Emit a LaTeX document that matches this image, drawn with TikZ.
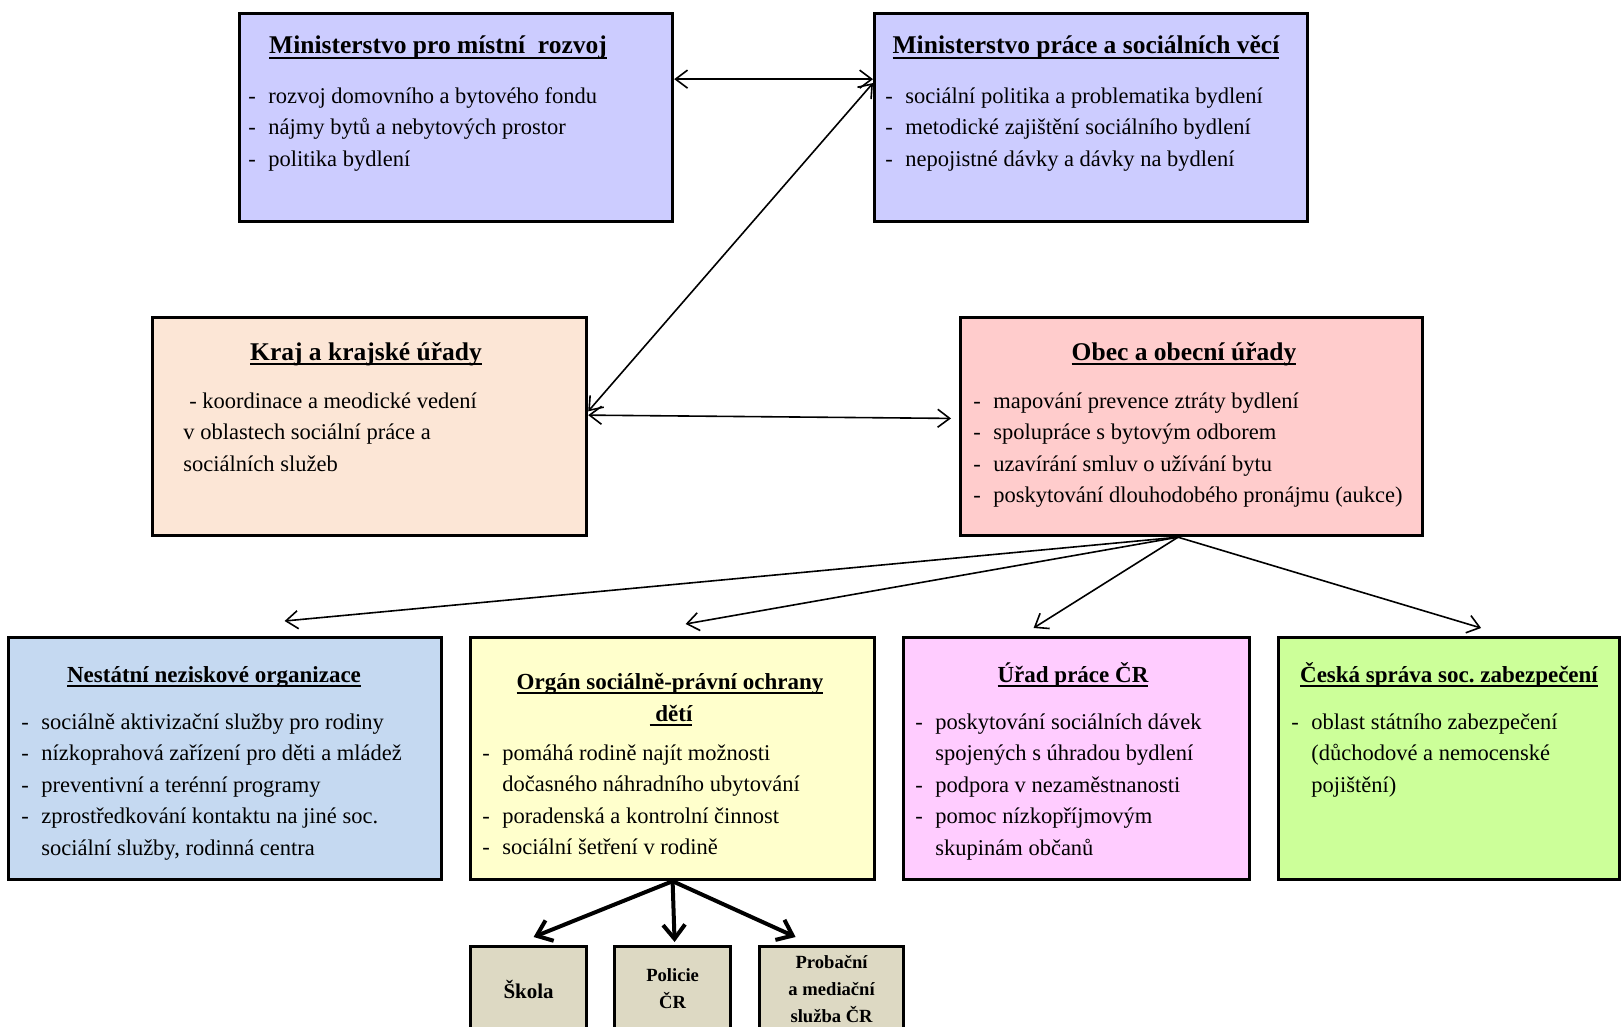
\documentclass[tikz,border=0pt]{standalone}
\usepackage{fontspec}
\setmainfont{Liberation Serif}
\usetikzlibrary{arrows.meta,calc}

\definecolor{minblue}{RGB}{204,204,255}
\definecolor{krajpeach}{RGB}{252,230,214}
\definecolor{obecrose}{RGB}{255,204,204}
\definecolor{nnoblue}{RGB}{197,217,241}
\definecolor{ospodyellow}{RGB}{255,255,204}
\definecolor{uppink}{RGB}{255,204,255}
\definecolor{csszgreen}{RGB}{204,255,153}
\definecolor{smallgray}{RGB}{221,217,195}

\newcommand{\undl}[1]{\setbox0\hbox{#1}\rlap{\rule[-2.6pt]{\wd0}{0.9pt}}\box0}
\newcommand{\itm}{\makebox[10pt][l]{-}}
\newcommand{\cnt}{\hspace*{10pt}}

\tikzstyle{orgbox}=[draw, line width=1.6pt, anchor=north west, inner sep=0pt]
\tikzstyle{boxtitle}=[anchor=base, inner sep=0pt, font=\bfseries\fontsize{12.75}{16}\selectfont]
\tikzstyle{lowtitle}=[boxtitle, font=\bfseries\fontsize{11.5}{15}\selectfont]
\tikzstyle{boxlist}=[anchor=north west, inner sep=0pt, align=left, font=\fontsize{11.25}{15.75}\selectfont]
\tikzstyle{smallbox}=[orgbox, fill=smallgray, align=center, minimum height=85*0.5pt, font=\bfseries\fontsize{9.3}{13.5}\selectfont]
\tikzstyle{bothlink}=[draw, line width=0.8pt, >={Straight Barb[length=6pt,width=9pt]}, <->]
\tikzstyle{toarrow}=[draw, line width=0.8pt, >={Straight Barb[length=6pt,width=9pt]}, ->]
\tikzstyle{toarrowthick}=[draw, line width=2pt, >={Straight Barb[length=7pt,width=11pt]}, ->]

\begin{document}
\begin{tikzpicture}[x=0.5pt, y=-0.5pt]

    \useasboundingbox (0,0) rectangle (1623,1027);

    % big boxes
    \foreach \x/\y/\w/\h/\name/\col in {238/12/433/208/mmr/minblue, 873/12/433/208/mpsv/minblue,
        151/316/434/218/kraj/krajpeach, 959/316/462/218/obec/obecrose,
        7/636/433/242/nno/nnoblue, 469/636/404/242/ospod/ospodyellow,
        902/636/346/242/up/uppink, 1277/636/341/242/cssz/csszgreen}
        \node[orgbox, fill=\col, minimum width=\w*0.5pt, minimum height=\h*0.5pt] (\name) at (\x,\y) {};

    % titles
    \foreach \x/\y/\name/\txt in {438/54/mmr/{Ministerstvo pro místní~ rozvoj},
        1086/54/mpsv/{Ministerstvo práce a sociálních věcí},
        366/360/kraj/{Kraj a krajské úřady}, 1184/360/obec/{Obec a obecní úřady}}
        \node[boxtitle] (\name title) at (\x,\y) {\undl{\txt}};

    \foreach \x/\y/\name/\txt in {214/682/nno/{Nestátní neziskové organizace},
        1073/682/up/{Úřad práce ČR}, 1449/682/cssz/{Česká správa soc.\ zabezpečení},
        670/689/ospod/{Orgán sociálně-právní ochrany}}
        \node[lowtitle] (\name title) at (\x,\y) {\undl{\txt}};
    \node[lowtitle] (ospod title2) at (671,721) {\undl{\ dětí}};

    % lists
    \node[boxlist] (mmrlist) at (248,81) {\strut\itm rozvoj domovního a bytového fondu\\
        \itm nájmy bytů a nebytových prostor\\ \itm politika bydlení};
    \node[boxlist] (mpsvlist) at (885,81) {\strut\itm sociální politika a problematika bydlení\\
        \itm metodické zajištění sociálního bydlení\\ \itm nepojistné dávky a dávky na bydlení};
    \node[boxlist] (krajlist) at (183,386) {\strut\hspace*{3pt}- koordinace a meodické vedení\\
        v oblastech sociální práce a\\ sociálních služeb};
    \node[boxlist] (obeclist) at (973,386) {\strut\itm mapování prevence ztráty bydlení\\
        \itm spolupráce s bytovým odborem\\ \itm uzavírání smluv o užívání bytu\\
        \itm poskytování dlouhodobého pronájmu (aukce)};
    \node[boxlist] (nnolist) at (21,707) {\strut\itm sociálně aktivizační služby pro rodiny\\
        \itm nízkoprahová zařízení pro děti a mládež\\ \itm preventivní a terénní programy\\
        \itm zprostředkování kontaktu na jiné soc.\\ \cnt sociální služby, rodinná centra};
    \node[boxlist] (ospodlist) at (482,738) {\strut\itm pomáhá rodině najít možnosti\\
        \cnt dočasného náhradního ubytování\\ \itm poradenská a kontrolní činnost\\
        \itm sociální šetření v rodině};
    \node[boxlist] (uplist) at (915,707) {\strut\itm poskytování sociálních dávek\\
        \cnt spojených s úhradou bydlení\\ \itm podpora v nezaměstnanosti\\
        \itm pomoc nízkopříjmovým\\ \cnt skupinám občanů};
    \node[boxlist] (csszlist) at (1291,707) {\strut\itm oblast státního zabezpečení\\
        \cnt (důchodové a nemocenské\\ \cnt pojištění)};

    % small boxes
    \node[smallbox, minimum width=116*0.5pt, font=\bfseries\fontsize{10.5}{13.5}\selectfont] (skola) at (469,945) {Škola};
    \node[smallbox, minimum width=116*0.5pt] (policie) at (613,945) {Policie\\ČR};
    \node[smallbox, minimum width=144*0.5pt] (probacni) at (758,945) {Probační\\a mediační\\služba ČR};

    % connectors
    \draw[bothlink] (mmr.10) -- (mpsv.170);
    \draw[bothlink] (mpsv.171) -- (kraj.4);
    \draw[bothlink, shorten >=4pt] (kraj.3) -- (obec.178);

    \foreach \dest/\dx/\dy in {nno/59.5/-15, ospod/13/-12, up/-43/-8, cssz/32/-8}
        \draw[toarrow] (obec.263) -- ($(\dest.north)+(\dx,\dy)$);

    \foreach \dest/\dx/\dy in {skola/5/-8, policie/2/-3, probacni/-36/-8}
        \draw[toarrowthick] (ospod.south) -- ($(\dest.north)+(\dx,\dy)$);

\end{tikzpicture}
\end{document}
